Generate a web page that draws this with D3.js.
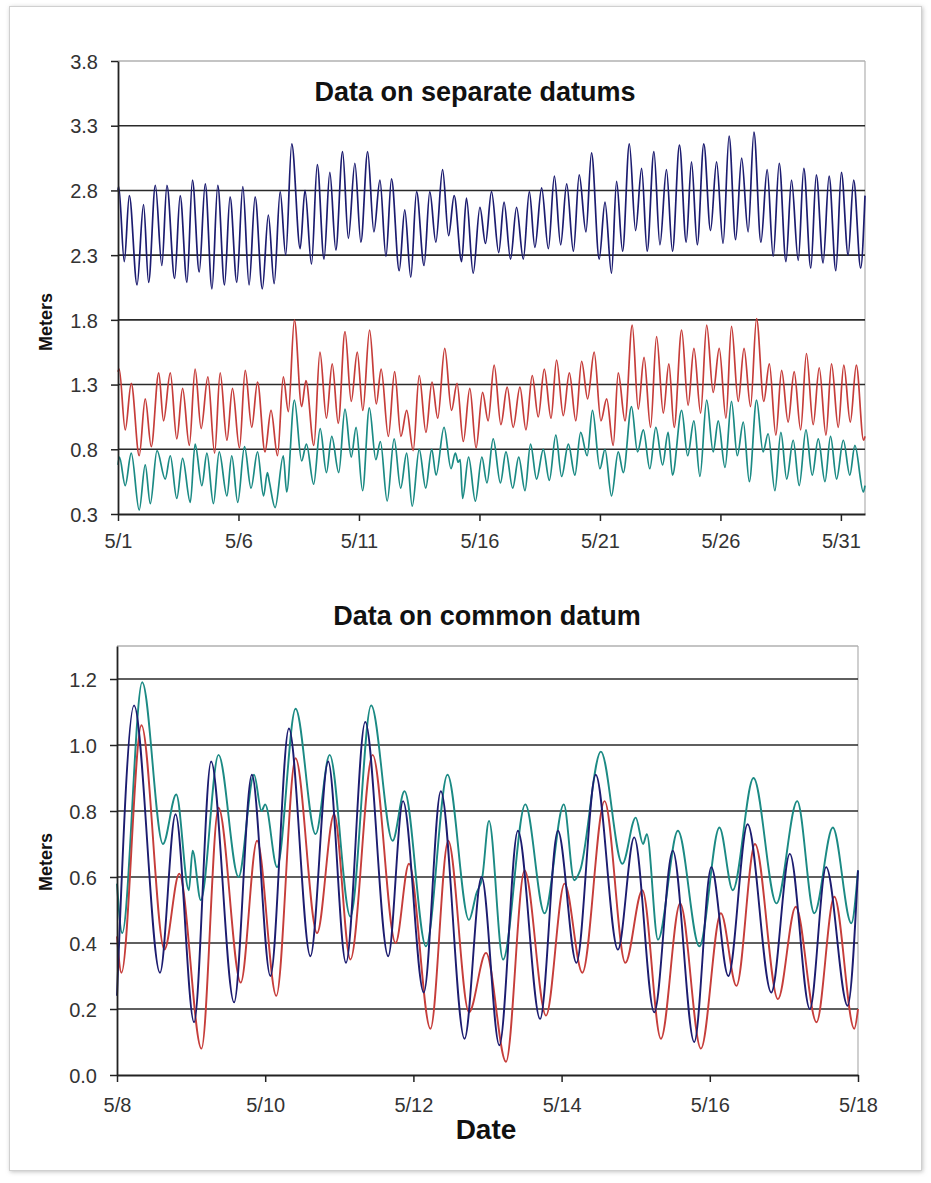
<!DOCTYPE html>
<html>
<head>
<meta charset="utf-8">
<script src="https://cdn.jsdelivr.net/npm/d3@7"></script>
<style>
  body { margin: 0; background: #fff; }
  svg { display: block; font-family: "Liberation Sans", Arial, sans-serif; }
</style>
</head>
<body>
<svg id="chart"></svg>
<script>
// Tide extrema: [days after 5/1 00:00, metres]

// Top panel - separate datums, whole month
const sepNavy = [[0,2.80],[0.03,2.83],[0.26,2.25],[0.47,2.76],[0.79,2.07],[1.06,2.69],[1.27,2.09],[1.55,2.84],[1.82,2.22],[2.03,2.84],[2.35,2.12],[2.58,2.76],[2.86,2.09],[3.09,2.88],[3.37,2.17],[3.62,2.85],[3.90,2.04],[4.14,2.84],[4.42,2.07],[4.65,2.75],[4.93,2.09],[5.18,2.83],[5.44,2.07],[5.69,2.75],[5.99,2.04],[6.24,2.61],[6.48,2.08],[6.73,2.79],[6.96,2.30],[7.21,3.16],[7.56,2.35],[7.76,2.80],[8.03,2.23],[8.27,3.00],[8.55,2.27],[8.79,2.94],[9.04,2.34],[9.32,3.10],[9.56,2.43],[9.83,3.01],[10.08,2.40],[10.36,3.10],[10.62,2.48],[10.87,2.88],[11.12,2.29],[11.35,2.89],[11.67,2.18],[11.90,2.65],[12.15,2.13],[12.39,2.79],[12.70,2.22],[12.94,2.79],[13.19,2.40],[13.47,2.96],[13.72,2.45],[13.95,2.76],[14.26,2.25],[14.46,2.74],[14.74,2.16],[15.02,2.67],[15.25,2.39],[15.50,2.79],[15.80,2.32],[16.02,2.71],[16.29,2.27],[16.54,2.67],[16.82,2.27],[17.07,2.79],[17.30,2.36],[17.58,2.82],[17.86,2.35],[18.11,2.91],[18.37,2.38],[18.62,2.85],[18.90,2.33],[19.14,2.92],[19.42,2.48],[19.65,3.09],[19.97,2.27],[20.21,2.71],[20.48,2.16],[20.69,2.87],[20.94,2.33],[21.22,3.16],[21.48,2.49],[21.73,2.97],[21.96,2.33],[22.24,3.10],[22.49,2.38],[22.76,2.96],[23.01,2.33],[23.30,3.15],[23.58,2.40],[23.80,3.02],[24.04,2.38],[24.31,3.16],[24.59,2.49],[24.84,3.02],[25.11,2.39],[25.36,3.22],[25.63,2.42],[25.88,3.05],[26.15,2.48],[26.39,3.25],[26.68,2.40],[26.94,2.96],[27.19,2.29],[27.44,3.01],[27.72,2.25],[27.95,2.88],[28.23,2.26],[28.46,2.97],[28.75,2.20],[28.98,2.92],[29.26,2.24],[29.51,2.91],[29.79,2.18],[30.02,2.94],[30.30,2.30],[30.53,2.88],[30.82,2.20],[31.0,2.76]];

const sepRed = [[0,1.40],[0.05,1.42],[0.30,0.95],[0.55,1.31],[0.88,0.75],[1.13,1.19],[1.38,0.82],[1.69,1.39],[1.89,1.02],[2.17,1.39],[2.44,0.88],[2.68,1.27],[2.96,0.83],[3.20,1.42],[3.45,0.96],[3.73,1.36],[4.01,0.77],[4.24,1.39],[4.52,0.87],[4.75,1.27],[5.04,0.81],[5.28,1.41],[5.55,0.97],[5.79,1.32],[6.10,0.78],[6.35,1.10],[6.62,0.75],[6.86,1.36],[7.07,1.09],[7.32,1.80],[7.62,1.13],[7.80,1.33],[8.13,0.83],[8.38,1.55],[8.65,1.04],[8.89,1.46],[9.14,1.00],[9.42,1.71],[9.68,1.17],[9.93,1.55],[10.16,1.10],[10.44,1.72],[10.72,1.15],[10.92,1.42],[11.22,0.90],[11.48,1.40],[11.74,0.90],[11.98,1.10],[12.25,0.79],[12.50,1.37],[12.78,0.93],[13.03,1.32],[13.27,1.04],[13.56,1.58],[13.84,1.10],[14.07,1.31],[14.33,0.86],[14.60,1.27],[14.86,0.81],[15.13,1.24],[15.36,1.02],[15.61,1.45],[15.89,0.99],[16.15,1.28],[16.40,0.97],[16.68,1.28],[16.93,0.95],[17.19,1.37],[17.44,1.05],[17.69,1.42],[17.97,1.04],[18.20,1.49],[18.48,1.06],[18.73,1.39],[19.00,1.02],[19.24,1.48],[19.49,1.19],[19.76,1.55],[20.04,1.02],[20.28,1.19],[20.55,0.83],[20.76,1.39],[21.04,1.02],[21.34,1.76],[21.59,1.11],[21.83,1.51],[22.10,0.97],[22.35,1.67],[22.63,1.08],[22.86,1.46],[23.08,0.97],[23.39,1.72],[23.66,1.14],[23.90,1.58],[24.18,1.08],[24.43,1.76],[24.70,1.24],[24.95,1.58],[25.23,1.04],[25.46,1.75],[25.74,1.17],[25.98,1.58],[26.25,1.13],[26.50,1.81],[26.80,1.17],[27.03,1.46],[27.30,0.91],[27.54,1.41],[27.81,1.01],[28.06,1.40],[28.33,0.95],[28.57,1.54],[28.85,0.99],[29.10,1.43],[29.38,0.91],[29.61,1.46],[29.89,0.97],[30.12,1.45],[30.39,1.01],[30.64,1.45],[30.94,0.87],[31.0,0.90]];

const sepTeal = [[0,0.68],[0.06,0.74],[0.30,0.52],[0.55,0.77],[0.88,0.33],[1.13,0.68],[1.34,0.38],[1.62,0.79],[1.96,0.57],[2.17,0.75],[2.44,0.42],[2.68,0.73],[3.00,0.39],[3.20,0.84],[3.48,0.52],[3.69,0.77],[3.96,0.38],[4.20,0.78],[4.52,0.44],[4.72,0.75],[4.97,0.39],[5.25,0.82],[5.52,0.50],[5.79,0.78],[6.04,0.44],[6.20,0.62],[6.28,0.55],[6.52,0.35],[6.86,0.75],[7.00,0.47],[7.32,1.18],[7.62,0.71],[7.82,0.84],[8.12,0.53],[8.39,0.96],[8.65,0.62],[8.87,0.90],[9.16,0.62],[9.42,1.11],[9.68,0.74],[9.88,0.97],[10.15,0.48],[10.43,1.12],[10.70,0.72],[10.89,0.86],[11.17,0.40],[11.46,0.88],[11.73,0.50],[11.98,0.77],[12.21,0.36],[12.50,0.80],[12.77,0.50],[13.02,0.80],[13.20,0.60],[13.53,0.97],[13.82,0.65],[14.00,0.77],[14.12,0.70],[14.20,0.72],[14.30,0.42],[14.55,0.74],[14.83,0.40],[15.10,0.74],[15.31,0.54],[15.57,0.88],[15.87,0.54],[16.10,0.78],[16.38,0.50],[16.63,0.74],[16.89,0.48],[17.12,0.84],[17.37,0.57],[17.65,0.80],[17.90,0.56],[18.17,0.91],[18.41,0.59],[18.69,0.84],[18.96,0.60],[19.20,0.93],[19.47,0.75],[19.69,1.10],[20.00,0.65],[20.21,0.80],[20.48,0.44],[20.76,0.78],[20.97,0.62],[21.31,1.13],[21.56,0.78],[21.80,0.95],[22.07,0.65],[22.32,0.97],[22.60,0.68],[22.83,0.93],[23.01,0.60],[23.39,1.10],[23.64,0.75],[23.90,1.02],[24.15,0.59],[24.43,1.18],[24.70,0.78],[24.91,1.02],[25.19,0.66],[25.46,1.17],[25.70,0.75],[25.95,1.01],[26.20,0.55],[26.50,1.18],[26.77,0.78],[26.98,0.92],[27.26,0.48],[27.51,0.93],[27.75,0.57],[28.02,0.87],[28.27,0.52],[28.55,0.95],[28.81,0.60],[29.06,0.88],[29.34,0.55],[29.57,0.90],[29.82,0.57],[30.10,0.87],[30.37,0.60],[30.58,0.83],[30.93,0.47],[31.0,0.52]];

// Bottom panel - common datum, 5/8 to 5/18
const comNavy = [[7.0,0.24],[7.23,1.12],[7.58,0.31],[7.79,0.79],[8.04,0.16],[8.27,0.95],[8.58,0.22],[8.82,0.91],[9.07,0.30],[9.32,1.05],[9.61,0.36],[9.85,0.95],[10.09,0.34],[10.35,1.07],[10.66,0.36],[10.86,0.83],[11.14,0.25],[11.37,0.86],[11.69,0.11],[11.92,0.60],[12.16,0.09],[12.41,0.74],[12.71,0.17],[12.95,0.74],[13.20,0.34],[13.46,0.91],[13.76,0.38],[13.98,0.72],[14.25,0.19],[14.50,0.68],[14.79,0.10],[15.02,0.63],[15.25,0.30],[15.51,0.76],[15.83,0.25],[16.08,0.67],[16.35,0.20],[16.57,0.63],[16.86,0.21],[17.0,0.62]];

const comRed = [[7.0,0.42],[7.06,0.31],[7.33,1.06],[7.64,0.38],[7.84,0.61],[8.14,0.08],[8.37,0.81],[8.67,0.28],[8.89,0.71],[9.15,0.24],[9.41,0.96],[9.70,0.43],[9.93,0.79],[10.15,0.35],[10.45,0.97],[10.76,0.40],[10.94,0.64],[11.23,0.14],[11.47,0.71],[11.75,0.19],[11.98,0.37],[12.25,0.04],[12.50,0.62],[12.79,0.18],[13.04,0.58],[13.28,0.31],[13.58,0.83],[13.86,0.34],[14.09,0.56],[14.34,0.11],[14.60,0.52],[14.88,0.08],[15.15,0.49],[15.36,0.27],[15.61,0.70],[15.92,0.23],[16.16,0.51],[16.44,0.16],[16.68,0.54],[16.95,0.14],[17.0,0.20]];

const comTeal = [[7.0,0.58],[7.07,0.43],[7.34,1.19],[7.62,0.70],[7.80,0.85],[7.97,0.56],[8.02,0.68],[8.13,0.53],[8.37,0.97],[8.64,0.60],[8.85,0.91],[8.95,0.80],[9.0,0.82],[9.16,0.63],[9.41,1.11],[9.68,0.73],[9.87,0.97],[10.15,0.48],[10.43,1.12],[10.72,0.71],[10.88,0.86],[11.17,0.39],[11.46,0.91],[11.75,0.47],[11.85,0.55],[11.93,0.60],[12.02,0.77],[12.21,0.35],[12.51,0.82],[12.77,0.49],[13.03,0.82],[13.17,0.59],[13.25,0.62],[13.53,0.98],[13.82,0.64],[14.00,0.78],[14.10,0.70],[14.15,0.73],[14.30,0.41],[14.57,0.74],[14.86,0.39],[15.13,0.75],[15.31,0.56],[15.59,0.90],[15.90,0.52],[16.18,0.83],[16.41,0.49],[16.66,0.75],[16.91,0.46],[17.0,0.62]];

// Axis ticks
const sepXTicks = [0, 5, 10, 15, 20, 25, 30];
const sepXLabels = ["5/1", "5/6", "5/11", "5/16", "5/21", "5/26", "5/31"];
const sepYTicks = [0.3, 0.8, 1.3, 1.8, 2.3, 2.8, 3.3, 3.8];
const comXTicks = [7, 9, 11, 13, 15, 17];
const comXLabels = ["5/8", "5/10", "5/12", "5/14", "5/16", "5/18"];
const comYTicks = [0, 0.2, 0.4, 0.6, 0.8, 1.0, 1.2];

const colors = { navy: "#1c1c70", red: "#c63d3a", teal: "#1b8a84" };

const width = 931;
const height = 1183;

const svg = d3.select("#chart")
    .attr("width", width)
    .attr("height", height);

// Soft frame round the whole picture
const defs = svg.append("defs");
defs.append("filter")
    .attr("id", "shadow")
    .attr("x", "-5%").attr("y", "-5%").attr("width", "110%").attr("height", "110%")
    .append("feDropShadow")
    .attr("dx", 1).attr("dy", 1).attr("stdDeviation", 2)
    .attr("flood-color", "#999").attr("flood-opacity", 0.6);

svg.append("rect")
    .attr("x", 9.5).attr("y", 6.5)
    .attr("width", 912).attr("height", 1164)
    .attr("fill", "#fff")
    .attr("stroke", "#d0d0d0")
    .attr("filter", "url(#shadow)");

function drawPanel(cfg) {
    const xScale = d3.scaleLinear().domain(cfg.xDomain).range(cfg.xRange);
    const yScale = d3.scaleLinear().domain(cfg.yDomain).range(cfg.yRange);
    const g = svg.append("g");

    // plot border: top and right in grey
    g.append("line")
        .attr("x1", cfg.xRange[0]).attr("x2", cfg.xRange[1])
        .attr("y1", yScale(cfg.yDomain[1])).attr("y2", yScale(cfg.yDomain[1]))
        .attr("stroke", "#8a8a8a").attr("stroke-width", 1.2);
    g.append("line")
        .attr("x1", cfg.xRange[1]).attr("x2", cfg.xRange[1])
        .attr("y1", yScale(cfg.yDomain[0])).attr("y2", yScale(cfg.yDomain[1]))
        .attr("stroke", "#b0b0b0").attr("stroke-width", 1.2);

    // horizontal gridlines
    g.selectAll(".grid")
        .data(cfg.yTicks.filter(d => d > cfg.yDomain[0] && d < cfg.yDomain[1] - 1e-9))
        .enter()
        .append("line")
        .attr("x1", cfg.xRange[0]).attr("x2", cfg.xRange[1])
        .attr("y1", d => yScale(d)).attr("y2", d => yScale(d))
        .attr("stroke", "#2a2a2a").attr("stroke-width", 1.6);

    // series
    const line = d3.line()
        .x(d => xScale(d[0]))
        .y(d => yScale(d[1]))
        .curve(d3.curveMonotoneX);

    cfg.series.forEach(s => {
        g.append("path")
            .datum(s.data)
            .attr("fill", "none")
            .attr("stroke", s.color)
            .attr("stroke-width", cfg.lineWidth)
            .attr("stroke-linejoin", "round")
            .attr("d", line);
    });

    // y axis
    const yAxis = g.append("g")
        .attr("transform", `translate(${cfg.xRange[0]},0)`)
        .call(d3.axisLeft(yScale)
            .tickValues(cfg.yTicks)
            .tickSize(7)
            .tickSizeOuter(0)
            .tickPadding(13)
            .tickFormat(d3.format(".1f")));

    // x axis
    const xAxis = g.append("g")
        .attr("transform", `translate(0,${cfg.yRange[0]})`)
        .call(d3.axisBottom(xScale)
            .tickValues(cfg.xTicks)
            .tickSize(7)
            .tickSizeOuter(0)
            .tickPadding(cfg.xPad)
            .tickFormat((d, i) => cfg.xLabels[i]));

    [yAxis, xAxis].forEach(a => {
        a.select(".domain").attr("stroke", "#222").attr("stroke-width", 1.8);
        a.selectAll(".tick line").attr("stroke", "#222").attr("stroke-width", 1.5);
        a.selectAll(".tick text")
            .attr("fill", "#333")
            .style("font-size", "20px")
            .style("font-family", "'Liberation Sans', Arial, sans-serif");
    });
    yAxis.selectAll(".tick text").attr("dy", "0.36em");

    // y axis title
    svg.append("text")
        .attr("transform", `translate(52,${cfg.yTitleY}) rotate(-90)`)
        .attr("text-anchor", "middle")
        .style("font-size", "18px")
        .style("font-weight", "bold")
        .attr("fill", "#111")
        .text("Meters");

    // chart title
    svg.append("text")
        .attr("x", cfg.titleX)
        .attr("y", cfg.titleY)
        .attr("text-anchor", "middle")
        .style("font-size", "27px")
        .style("font-weight", "bold")
        .attr("fill", "#111")
        .text(cfg.title);
}

drawPanel({
    title: "Data on separate datums",
    titleX: 475, titleY: 101,
    xDomain: [0, 31], xRange: [118, 865],
    yDomain: [0.3, 3.8], yRange: [514, 61],
    xTicks: sepXTicks, xLabels: sepXLabels, yTicks: sepYTicks,
    xPad: 13, yTitleY: 322, lineWidth: 1.7,
    series: [
        { data: sepTeal, color: colors.teal },
        { data: sepRed, color: colors.red },
        { data: sepNavy, color: colors.navy }
    ]
});

drawPanel({
    title: "Data on common datum",
    titleX: 487, titleY: 625,
    xDomain: [7, 17], xRange: [117, 858],
    yDomain: [0, 1.3], yRange: [1075, 646],
    xTicks: comXTicks, xLabels: comXLabels, yTicks: comYTicks,
    xPad: 16, yTitleY: 862, lineWidth: 1.9,
    series: [
        { data: comTeal, color: colors.teal },
        { data: comRed, color: colors.red },
        { data: comNavy, color: colors.navy }
    ]
});

// x axis title of the lower panel
svg.append("text")
    .attr("x", 486)
    .attr("y", 1139)
    .attr("text-anchor", "middle")
    .style("font-size", "28px")
    .style("font-weight", "bold")
    .attr("fill", "#111")
    .text("Date");
</script>
</body>
</html>
